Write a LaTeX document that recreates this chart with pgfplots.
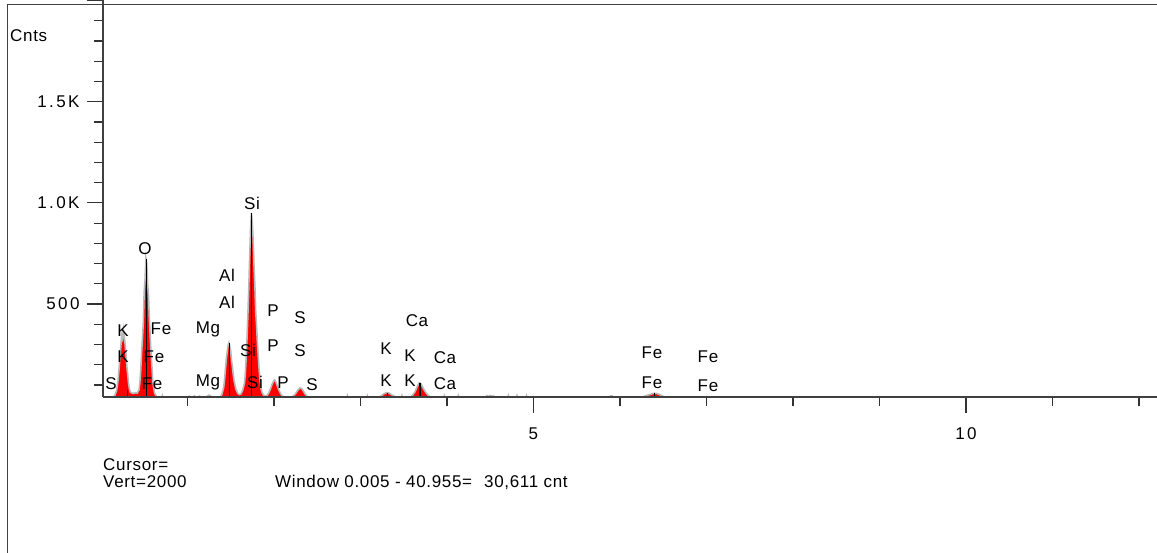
\documentclass[border=0pt]{standalone}
\usepackage{pgfplots}
\pgfplotsset{compat=1.18}
\usepackage{fontspec}
\setmainfont{Liberation Sans}
\newfontfamily\tickfont{Liberation Sans}[LetterSpace=14]
\newfontfamily\lblfont{Liberation Sans}[LetterSpace=4]
\newcommand\fs{\fontsize{17pt}{20pt}\selectfont}
\newcommand\lbl[3]{\node[anchor=base, inner sep=0pt, font=\lblfont\fs] at (#1pt,{(553-#2-6.1)*1pt}) {#3};}
\pgfplotstableread{
x y
0.02 30
0.10 30
0.14 38
0.16 48
0.18 70
0.19 95
0.20 130
0.21 180
0.22 240
0.23 290
0.24 345
0.25 330
0.26 372
0.27 340
0.28 300
0.29 250
0.30 190
0.31 150
0.32 105
0.33 80
0.34 65
0.36 60
0.38 58
0.40 62
0.42 60
0.44 75
0.45 110
0.46 170
0.47 260
0.48 330
0.49 410
0.50 560
0.51 620
0.52 725
0.53 700
0.54 600
0.55 540
0.56 430
0.57 340
0.58 250
0.59 190
0.60 120
0.61 85
0.62 60
0.64 45
0.66 35
0.70 30
0.71 46
0.72 30
1.00 30
1.02 44
1.04 30
1.08 46
1.10 30
1.14 45
1.16 30
1.22 42
1.25 50
1.28 42
1.32 30
1.38 40
1.40 55
1.42 90
1.43 130
1.44 180
1.45 230
1.46 265
1.47 295
1.48 308
1.49 290
1.50 270
1.51 220
1.52 190
1.53 150
1.54 120
1.56 80
1.58 60
1.60 52
1.62 56
1.64 75
1.66 110
1.67 160
1.68 240
1.69 340
1.70 460
1.71 590
1.72 740
1.73 870
1.74 950
1.75 900
1.76 820
1.77 690
1.78 590
1.79 460
1.80 390
1.81 300
1.82 235
1.83 170
1.84 125
1.85 85
1.86 65
1.88 50
1.90 45
1.92 48
1.94 60
1.96 80
1.98 105
2.00 122
2.01 125
2.02 118
2.04 95
2.06 72
2.08 55
2.10 45
2.12 38
2.20 36
2.22 44
2.24 52
2.26 63
2.28 76
2.30 85
2.32 82
2.34 70
2.36 56
2.38 45
2.40 36
2.44 30
2.84 30
2.85 46
2.86 30
3.07 30
3.08 45
3.09 30
3.20 34
3.24 46
3.27 56
3.30 62
3.33 60
3.36 52
3.40 42
3.43 32
3.47 30
3.48 46
3.49 30
3.56 34
3.60 48
3.63 65
3.66 95
3.68 111
3.70 106
3.72 88
3.75 66
3.78 50
3.82 38
3.86 30
3.96 30
3.97 45
3.98 30
4.12 30
4.13 46
4.14 30
4.45 30
4.46 47
4.48 44
4.50 48
4.52 44
4.54 46
4.56 30
4.70 30
4.71 46
4.72 30
4.80 30
4.81 46
4.82 30
4.91 30
4.92 46
4.93 30
5.88 30
5.89 46
5.91 46
5.92 30
6.26 30
6.28 44
6.31 48
6.34 52
6.37 56
6.40 59
6.43 57
6.46 52
6.49 46
6.52 38
6.56 30
12.25 30
}\spectrum
\begin{document}
\begin{tikzpicture}[x=1pt,y=1pt]
\useasboundingbox (0,0) rectangle (1157,553);
\fill[white] (0,0) rectangle (1157,553);
\draw[black!75, line width=1pt] (7,0) -- (7,548) -- (1157,548);
\begin{axis}[at={(103pt,156pt)}, anchor=south west, scale only axis,
  width=1054pt, height=397pt,
  xmin=0.024, xmax=12.209, ymin=40.5, ymax=2003,
  axis x line=bottom, axis y line=left,
  axis line style={-, black!75, line width=1.6pt},
  tick align=outside,
  xtick={5,10}, xticklabels={5,10},
  minor xtick={1,2,3,4,6,7,8,9,11,12},
  ytick={500,1000,1500,2000}, yticklabels={500,1.0K,1.5K,},
  minor ytick={100,200,...,1900},
  major tick length=16pt, minor tick length=9pt,
  tick style={black!80, line width=1.2pt},
  tick label style={font=\tickfont\fs},
  xticklabel style={yshift=-11pt},
  yticklabel style={xshift=-4pt},
  /pgf/number format/assume math mode=true,
  axis on top]
\addplot[draw=gray!55, line width=1.6pt, fill=red] table[x=x,y=y] {\spectrum} \closedcycle;
\addplot[black, line width=1.3pt, ycomb, no marks] coordinates {(0.525,725) (1.742,950) (1.486,308) (3.69,111) (3.31,62) (6.40,59) (0.31,75)};
\end{axis}
\lbl{111}{383}{S}
\lbl{123}{330}{K}
\lbl{123}{356.5}{K}
\lbl{161}{328}{Fe}
\lbl{154}{356.5}{Fe}
\lbl{152}{383}{Fe}
\lbl{145}{248}{O}
\lbl{208}{327}{Mg}
\lbl{208}{380}{Mg}
\lbl{227}{275}{Al}
\lbl{227}{302}{Al}
\lbl{252}{203}{Si}
\lbl{248}{350}{Si}
\lbl{255}{382}{Si}
\lbl{273}{310}{P}
\lbl{273}{345}{P}
\lbl{283}{382}{P}
\lbl{300}{317}{S}
\lbl{300}{350}{S}
\lbl{312}{384}{S}
\lbl{386}{348}{K}
\lbl{386}{380}{K}
\lbl{410}{355}{K}
\lbl{410}{380}{K}
\lbl{417}{320}{Ca}
\lbl{445}{357}{Ca}
\lbl{445}{383}{Ca}
\lbl{652}{352}{Fe}
\lbl{652}{382}{Fe}
\lbl{708}{356}{Fe}
\lbl{708}{385}{Fe}
\node[anchor=base west, inner sep=0pt, font=\lblfont\fs] at (10pt,{(553-35-6.1)*1pt}) {Cnts};
\node[anchor=base west, inner sep=0pt, font=\lblfont\fs] at (103pt,{(553-464-6.1)*1pt}) {Cursor=};
\node[anchor=base west, inner sep=0pt, font=\lblfont\fs] at (103pt,{(553-481.7-6.1)*1pt}) {Vert=2000};
\node[anchor=base west, inner sep=0pt, font=\lblfont\fs] at (275pt,{(553-481.7-6.1)*1pt}) {Window 0.005 - 40.955=\hspace{12pt}30,611 cnt};
\end{tikzpicture}
\end{document}
